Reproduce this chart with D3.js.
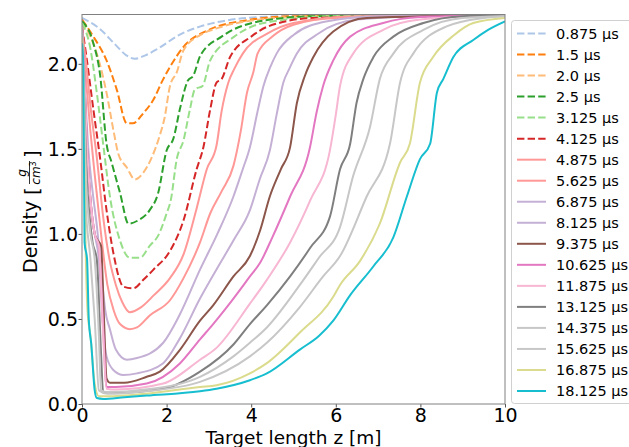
<!DOCTYPE html>
<html>
<head>
<meta charset="utf-8">
<script src="https://cdn.jsdelivr.net/npm/d3@7"></script>
<style>
  body { margin: 0; background: #fff; }
  text { font-family: "DejaVu Sans", sans-serif; }
</style>
</head>
<body>
<svg id="chart" width="629" height="447"></svg>
<script>
// legend labels (µs)
const times = ['0.875', '1.5', '2.0', '2.5', '3.125', '4.125', '4.875', '5.625', '6.875',
  '8.125', '9.375', '10.625', '11.875', '13.125', '14.375', '15.625', '16.875', '18.125'];
const xTicks = [0, 2, 4, 6, 8, 10];
const yTicks = [0, 0.5, 1.0, 1.5, 2.0];

// density curves, [z (m), rho (g/cm3)]
const rho_0875 = [[0,2.27],[0.4,2.21],[0.8,2.11],[1.05,2.05],[1.25,2.03],[1.5,2.05],[1.8,2.09],[2.3,2.17],[2.8,2.22],[3.2,2.245],[4.2,2.275],[6,2.285],[10,2.285]];
const rho_15 = [[0,2.26],[0.27,2.16],[0.58,2.02],[0.82,1.85],[1.06,1.65],[1.2,1.65],[1.45,1.71],[1.69,1.79],[1.9,1.9],[2.1,1.99],[2.4,2.1],[3.0,2.2],[4.0,2.26],[5,2.28],[10,2.285]];
const rho_20 = [[0,2.25],[0.2,2.16],[0.35,2.06],[0.58,1.83],[0.75,1.6],[0.86,1.47],[1.06,1.39],[1.25,1.32],[1.45,1.36],[1.65,1.45],[1.84,1.58],[1.95,1.68],[2.08,1.87],[2.24,1.95],[2.4,2.08],[2.8,2.17],[3.2,2.21],[4.2,2.26],[5.5,2.28],[10,2.285]];
const rho_25 = [[0,2.25],[0.27,2.12],[0.43,1.93],[0.58,1.53],[0.7,1.42],[0.9,1.24],[1.1,1.06],[1.33,1.08],[1.6,1.14],[1.8,1.24],[2.0,1.49],[2.16,1.56],[2.32,1.74],[2.5,1.9],[2.63,1.93],[2.8,2.05],[3.3,2.16],[4.2,2.25],[5.5,2.28],[10,2.285]];
const rho_3125 = [[0,2.24],[0.19,2.1],[0.35,1.83],[0.5,1.53],[0.66,1.22],[0.9,0.96],[1.13,0.86],[1.37,0.86],[1.6,0.93],[1.8,0.99],[2.0,1.12],[2.1,1.2],[2.24,1.44],[2.4,1.55],[2.55,1.73],[2.67,1.85],[2.85,1.87],[3.03,2.02],[3.6,2.16],[4.3,2.24],[6,2.28],[10,2.285]];
const rho_4125 = [[0,2.22],[0.1,2.05],[0.27,1.73],[0.43,1.44],[0.58,1.14],[0.74,0.89],[0.98,0.69],[1.21,0.68],[1.45,0.73],[1.69,0.79],[2.08,0.9],[2.4,1.08],[2.71,1.38],[2.87,1.51],[3.03,1.73],[3.18,1.89],[3.3,1.91],[3.5,2.04],[4.0,2.16],[4.4,2.22],[5.5,2.27],[10,2.285]];
const rho_4875 = [[0,2.2],[0.1,2.0],[0.2,1.75],[0.35,1.45],[0.5,1.1],[0.65,0.85],[0.8,0.7],[0.95,0.6],[1.13,0.54],[1.4,0.57],[1.7,0.64],[2.08,0.74],[2.4,0.88],[2.71,1.15],[2.95,1.38],[3.18,1.52],[3.3,1.72],[3.46,1.89],[3.6,1.97],[3.8,2.06],[4.4,2.18],[5,2.24],[6.5,2.28],[10,2.285]];
const rho_5625 = [[0,2.2],[0.08,1.95],[0.2,1.6],[0.3,1.35],[0.45,1.0],[0.6,0.7],[0.75,0.55],[0.9,0.47],[1.13,0.44],[1.3,0.45],[1.6,0.52],[2.08,0.61],[2.4,0.74],[2.79,0.95],[3.03,1.12],[3.3,1.25],[3.58,1.4],[3.75,1.6],[3.9,1.83],[4.05,1.95],[4.15,2.06],[4.5,2.16],[5,2.23],[6,2.27],[10,2.285]];
const rho_6875 = [[0,2.2],[0.06,1.9],[0.15,1.5],[0.25,1.25],[0.35,1.05],[0.45,0.8],[0.55,0.55],[0.66,0.44],[0.8,0.32],[1.06,0.26],[1.3,0.27],[1.92,0.36],[2.3,0.52],[2.79,0.79],[3.2,1.0],[3.58,1.22],[3.8,1.38],[3.97,1.51],[4.15,1.72],[4.29,1.87],[4.45,1.98],[4.6,2.06],[5,2.17],[5.8,2.25],[7,2.28],[10,2.285]];
const rho_8125 = [[0,2.2],[0.05,1.9],[0.12,1.5],[0.2,1.2],[0.3,1.0],[0.4,0.85],[0.5,0.45],[0.58,0.28],[0.74,0.2],[0.98,0.17],[1.3,0.18],[1.92,0.24],[2.3,0.38],[2.79,0.62],[3.2,0.8],[3.6,0.97],[3.97,1.14],[4.2,1.32],[4.44,1.49],[4.6,1.7],[4.76,1.89],[4.9,1.97],[5.08,2.06],[5.6,2.18],[6.5,2.26],[8,2.28],[10,2.285]];
const rho_9375 = [[0,2.22],[0.05,1.95],[0.12,1.5],[0.2,1.2],[0.3,1.0],[0.35,0.97],[0.45,0.93],[0.52,0.5],[0.58,0.15],[0.66,0.125],[1.0,0.125],[1.53,0.16],[1.84,0.19],[2.32,0.32],[2.79,0.49],[3.1,0.58],[3.58,0.75],[3.97,0.87],[4.21,1.02],[4.44,1.22],[4.7,1.38],[4.92,1.51],[5.08,1.77],[5.27,1.93],[5.47,2.04],[5.94,2.19],[6.73,2.27],[10,2.285]];
const rho_10625 = [[0,2.22],[0.05,1.95],[0.12,1.5],[0.2,1.2],[0.3,1.0],[0.4,0.93],[0.5,0.45],[0.58,0.1],[0.8,0.1],[1.53,0.12],[2.32,0.24],[2.79,0.38],[3.1,0.47],[3.58,0.62],[3.97,0.75],[4.21,0.83],[4.5,0.98],[4.92,1.22],[5.39,1.51],[5.55,1.72],[5.7,1.87],[5.94,2.02],[6.34,2.16],[7.12,2.24],[8,2.275],[10,2.285]];
const rho_11875 = [[0,2.22],[0.05,1.95],[0.12,1.5],[0.2,1.2],[0.3,1.0],[0.4,0.93],[0.5,0.4],[0.58,0.09],[0.8,0.085],[1.92,0.12],[2.79,0.26],[3.18,0.33],[3.97,0.59],[4.37,0.73],[4.92,0.95],[5.4,1.2],[5.86,1.49],[6.0,1.7],[6.1,1.87],[6.41,2.06],[7.12,2.2],[8,2.26],[10,2.285]];
const rho_13125 = [[0,2.2],[0.04,1.9],[0.1,1.4],[0.18,1.1],[0.25,0.95],[0.35,0.85],[0.45,0.3],[0.5,0.07],[0.7,0.065],[1.92,0.09],[2.79,0.19],[3.58,0.35],[3.97,0.47],[4.37,0.58],[4.92,0.75],[5.4,0.92],[5.86,1.1],[6.1,1.38],[6.34,1.53],[6.49,1.77],[6.65,1.91],[6.89,2.04],[7.36,2.16],[8.07,2.24],[9,2.28],[10,2.285]];
const rho_14375 = [[0,2.2],[0.04,1.9],[0.1,1.3],[0.2,1.0],[0.3,0.85],[0.4,0.4],[0.45,0.08],[0.6,0.07],[1.5,0.085],[2.79,0.16],[3.58,0.28],[3.97,0.36],[4.37,0.45],[5.15,0.7],[5.6,0.86],[6.1,1.04],[6.41,1.34],[6.81,1.63],[7.04,1.91],[7.36,2.06],[8.07,2.2],[9,2.27],[10,2.28]];
const rho_15625 = [[0,2.18],[0.03,1.9],[0.08,1.2],[0.2,0.85],[0.3,0.5],[0.4,0.08],[0.6,0.06],[1.5,0.075],[2.79,0.13],[3.97,0.28],[4.37,0.36],[5.15,0.57],[5.7,0.75],[6.1,0.87],[6.73,1.22],[7.28,1.53],[7.52,1.89],[7.83,2.06],[8.62,2.22],[9.5,2.27],[10,2.28]];
const rho_16875 = [[0,2.15],[0.03,1.9],[0.08,1.0],[0.13,0.55],[0.2,0.4],[0.3,0.12],[0.4,0.045],[0.6,0.045],[1.5,0.06],[2.79,0.1],[3.18,0.11],[3.97,0.18],[4.37,0.24],[5.15,0.42],[5.94,0.63],[6.1,0.7],[6.57,0.84],[7.04,1.06],[7.52,1.42],[7.75,1.53],[7.99,1.89],[8.3,2.04],[8.8,2.17],[9.25,2.24],[10,2.27]];
const rho_18125 = [[0,2.12],[0.03,2.0],[0.06,0.95],[0.12,0.85],[0.16,0.5],[0.22,0.35],[0.3,0.08],[0.35,0.035],[0.5,0.03],[1.0,0.04],[1.53,0.05],[2.79,0.075],[3.18,0.09],[3.97,0.14],[4.37,0.18],[5.15,0.32],[5.6,0.4],[5.94,0.49],[6.34,0.64],[6.89,0.81],[7.36,0.98],[7.68,1.22],[7.99,1.44],[8.23,1.53],[8.39,1.83],[8.54,1.91],[8.78,2.04],[9.25,2.14],[9.6,2.2],[10,2.25]];

const curves = [rho_0875, rho_15, rho_20, rho_25, rho_3125, rho_4125, rho_4875, rho_5625, rho_6875,
  rho_8125, rho_9375, rho_10625, rho_11875, rho_13125, rho_14375, rho_15625, rho_16875, rho_18125];

const colors = ['#aec7e8', '#ff7f0e', '#ffbb78', '#2ca02c', '#98df8a', '#d62728', '#ff9896', '#ff9896', '#c5b0d5',
  '#c5b0d5', '#8c564b', '#e377c2', '#f7b6d2', '#7f7f7f', '#c7c7c7', '#c7c7c7', '#dbdb8d', '#17becf'];
const nDashed = 6;

const svg = d3.select('#chart');
const plot = { left: 82, right: 505, top: 14.5, bottom: 404 };

const x = d3.scaleLinear().domain([0, 10]).range([plot.left, plot.right]);
const y = d3.scaleLinear().domain([0, 2.29]).range([plot.bottom, plot.top]);

svg.append('defs').append('clipPath').attr('id', 'clip')
  .append('rect')
  .attr('x', plot.left).attr('y', plot.top)
  .attr('width', plot.right - plot.left).attr('height', plot.bottom - plot.top);

const line = d3.line()
  .x(d => x(d[0]))
  .y(d => y(d[1]))
  .curve(d3.curveMonotoneX);

svg.append('g')
  .attr('clip-path', 'url(#clip)')
  .selectAll('path')
  .data(curves)
  .enter()
  .append('path')
  .attr('d', line)
  .attr('fill', 'none')
  .attr('stroke', (d, i) => colors[i])
  .attr('stroke-width', 2)
  .attr('stroke-dasharray', (d, i) => i < nDashed ? '7.4,3.2' : null);

// axes
const xAxis = svg.append('g')
  .attr('transform', 'translate(0,' + plot.bottom + ')')
  .call(d3.axisBottom(x).tickValues(xTicks).tickFormat(d3.format('d')).tickSizeOuter(0).tickSize(3.5));
const yAxis = svg.append('g')
  .attr('transform', 'translate(' + plot.left + ',0)')
  .call(d3.axisLeft(y).tickValues(yTicks).tickFormat(d3.format('.1f')).tickSizeOuter(0).tickSize(3.5));

[xAxis, yAxis].forEach(a => {
  a.select('.domain').remove();
  a.selectAll('line').attr('stroke', '#555');
  a.selectAll('text').attr('font-size', 19).attr('fill', '#000')
    .style('font-family', '"DejaVu Sans", sans-serif');
});
xAxis.selectAll('text').attr('dy', null).attr('y', 17.5);
yAxis.selectAll('text').attr('x', -4).attr('dy', '0.36em');

// frame
svg.append('rect')
  .attr('x', plot.left).attr('y', plot.top)
  .attr('width', plot.right - plot.left).attr('height', plot.bottom - plot.top)
  .attr('fill', 'none').attr('stroke', '#808080').attr('stroke-width', 1);

// axis titles
svg.append('text')
  .attr('x', (plot.left + plot.right) / 2).attr('y', 444)
  .attr('text-anchor', 'middle').attr('font-size', 18.5)
  .text('Target length z [m]');

const yl = svg.append('g').attr('transform', 'translate(37,' + 211 + ') rotate(-90)');
yl.append('text').attr('x', -62).attr('y', 0).attr('font-size', 19).text('Density');
yl.append('text').attr('x', 16).attr('y', 2).attr('font-size', 19.5).text('[');
yl.append('text').attr('x', 38).attr('y', -11).attr('font-size', 12)
  .attr('font-style', 'italic').attr('text-anchor', 'middle').text('g');
yl.append('line').attr('x1', 27).attr('x2', 50).attr('y1', -7.5).attr('y2', -7.5)
  .attr('stroke', '#000').attr('stroke-width', 0.8);
const den = yl.append('text').attr('x', 38).attr('y', 2.5).attr('font-size', 12)
  .attr('text-anchor', 'middle');
den.append('tspan').attr('font-style', 'italic').text('cm');
den.append('tspan').attr('font-size', 8).attr('dy', -4).text('3');
yl.append('text').attr('x', 53).attr('y', 2).attr('font-size', 19.5).text(']');

// legend
const legend = svg.append('g');
legend.append('rect')
  .attr('x', 511.5).attr('y', 20.5).attr('width', 140).attr('height', 383)
  .attr('rx', 3).attr('fill', '#fff').attr('fill-opacity', 0.8)
  .attr('stroke', '#d0d0d0').attr('stroke-width', 1);

const rowY = d3.scaleLinear().domain([0, times.length - 1]).range([33.5, 391]);
const rows = legend.selectAll('g.row')
  .data(times)
  .enter()
  .append('g')
  .attr('class', 'row')
  .attr('transform', (d, i) => 'translate(0,' + rowY(i) + ')');

rows.append('line')
  .attr('x1', 517).attr('x2', 546).attr('y1', 0).attr('y2', 0)
  .attr('stroke', (d, i) => colors[i])
  .attr('stroke-width', 2)
  .attr('stroke-dasharray', (d, i) => i < nDashed ? '7.4,3.2' : null);

rows.append('text')
  .attr('x', 556).attr('y', 0).attr('dy', '0.36em')
  .attr('font-size', 14.5)
  .text(d => d + ' µs');
</script>
</body>
</html>
